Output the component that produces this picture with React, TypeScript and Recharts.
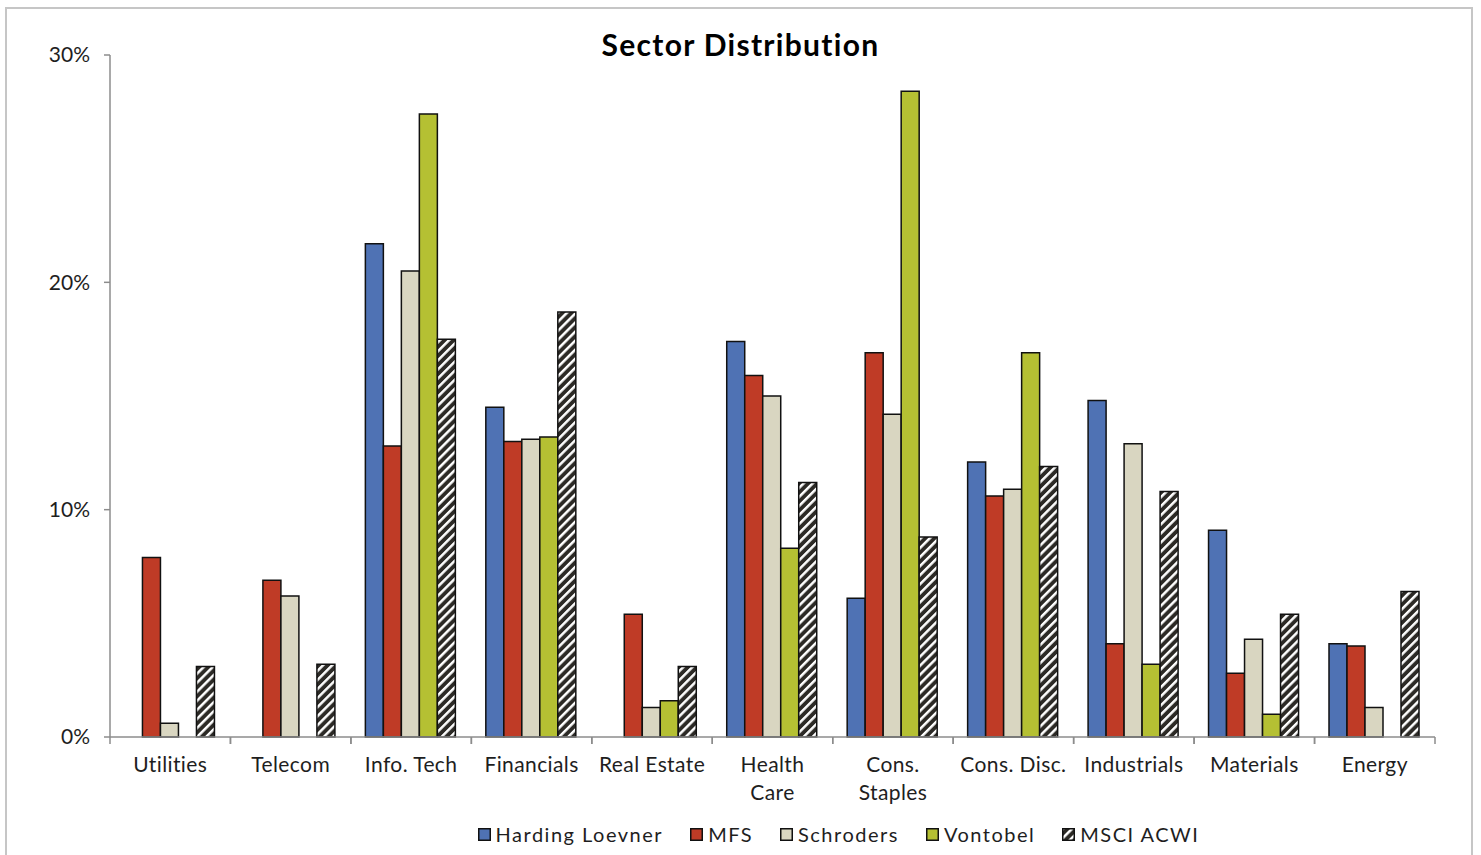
import React from 'react';
import { BarChart, Bar, XAxis, YAxis, Legend } from 'recharts';

const categories = ["Utilities", "Telecom", "Info. Tech", "Financials", "Real Estate", "Health\nCare", "Cons.\nStaples", "Cons. Disc.", "Industrials", "Materials", "Energy"];
const hardingLoevner = [null, null, 21.7, 14.5, null, 17.4, 6.1, 12.1, 14.8, 9.1, 4.1];
const mfs = [7.9, 6.9, 12.8, 13.0, 5.4, 15.9, 16.9, 10.6, 4.1, 2.8, 4.0];
const schroders = [0.6, 6.2, 20.5, 13.1, 1.3, 15.0, 14.2, 10.9, 12.9, 4.3, 1.3];
const vontobel = [null, null, 27.4, 13.2, 1.6, 8.3, 28.4, 16.9, 3.2, 1.0, null];
const msciAcwi = [3.1, 3.2, 17.5, 18.7, 3.1, 11.2, 8.8, 11.9, 10.8, 5.4, 6.4];
const yTicks = [0, 10, 20, 30];

const seriesNames = ["Harding Loevner", "MFS", "Schroders", "Vontobel", "MSCI ACWI"];
const seriesKeys = ["hl", "mfs", "sch", "von", "msci"];
const seriesFills = ["#4f72b4", "#bf3b26", "#d9d6c1", "#b5c033", "url(#hatch)"];

const data = categories.map((c, i) => ({
  name: c,
  hl: hardingLoevner[i],
  mfs: mfs[i],
  sch: schroders[i],
  von: vontobel[i],
  msci: msciAcwi[i],
}));

const FONT = "Lato, 'Noto Sans', sans-serif";
const AXIS = "#8c8c8c";

const CategoryTick = (props: any) => {
  const { x, y, payload } = props;
  const half = payload && payload.offset ? payload.offset : 60.2;
  const lines = String(payload.value).split("\n");
  return (
    <g>
      <line x1={x - half} x2={x - half} y1={y} y2={y + 7} stroke={AXIS} strokeWidth={1.5} />
      <line x1={x + half} x2={x + half} y1={y} y2={y + 7} stroke={AXIS} strokeWidth={1.5} />
      <text x={x} y={y + 35} textAnchor="middle" fill="#1e1e1e" fontSize={21} letterSpacing={0.4} fontFamily={FONT}>
        {lines.map((l, i) => (
          <tspan key={i} x={x} dy={i === 0 ? 0 : 28}>{l}</tspan>
        ))}
      </text>
    </g>
  );
};

const LegendContent = () => (
  <div style={{ display: 'flex', justifyContent: 'center', alignItems: 'center', paddingLeft: 192, fontFamily: FONT, fontSize: 20, letterSpacing: 1.5, color: '#1e1e1e' }}>
    {seriesNames.map((n, i) => (
      <div key={n} style={{ display: 'flex', alignItems: 'center', marginRight: i < seriesNames.length - 1 ? 27 : 0 }}>
        <svg width={13} height={13} style={{ marginRight: 5 }}>
          <rect x={0.75} y={0.75} width={11.5} height={11.5} fill={seriesFills[i]} stroke="#111" strokeWidth={1.5} />
        </svg>
        <span>{n}</span>
      </div>
    ))}
  </div>
);

export default function App() {
  return (
    <div style={{ position: 'absolute', left: 0, top: 0, width: 1481, height: 855, background: '#fff', overflow: 'hidden' }}>
      <div style={{ position: 'absolute', left: 5, top: 7, width: 1468, height: 900, border: '2px solid #c6c6c6', boxSizing: 'border-box' }} />
      <div style={{ position: 'absolute', left: 0, top: 26, width: 1481, textAlign: 'center', fontFamily: FONT, fontWeight: 700, fontSize: 30, letterSpacing: 1.3, lineHeight: '36px', color: '#000' }}>
        <span>Sector Distribution</span>
      </div>
      <div style={{ position: 'absolute', left: 0, top: 0 }}>
        <BarChart width={1481} height={855} data={data} margin={{ top: 55, right: 46, left: 50, bottom: 3 }} barCategoryGap="12%" barGap={0}>
          <defs>
            <pattern id="hatch" patternUnits="userSpaceOnUse" width={6.4} height={6.4} patternTransform="rotate(45)">
              <rect x={0} y={0} width={6.4} height={6.4} fill="#2c2a26" />
              <rect x={0} y={0} width={2.5} height={6.4} fill="#ffffff" />
            </pattern>
          </defs>
          <XAxis dataKey="name" height={85} tickLine={false} tickSize={0} tickMargin={0} axisLine={{ stroke: AXIS, strokeWidth: 1.5 }} tick={<CategoryTick />} interval={0} />
          <YAxis width={60} domain={[0, 30]} ticks={yTicks} tickFormatter={(v: number) => `${v}%`} tickSize={6} tickMargin={14} axisLine={{ stroke: AXIS, strokeWidth: 1.5 }} tickLine={{ stroke: AXIS, strokeWidth: 1.5 }} tick={{ fill: '#1e1e1e', fontSize: 21, fontFamily: FONT }} />
          <Legend verticalAlign="bottom" height={30} content={<LegendContent />} />
          {seriesKeys.map((k, i) => (
            <Bar key={k} dataKey={k} name={seriesNames[i]} fill={seriesFills[i]} stroke="#111" strokeWidth={1.5} isAnimationActive={false} />
          ))}
        </BarChart>
      </div>
    </div>
  );
}
